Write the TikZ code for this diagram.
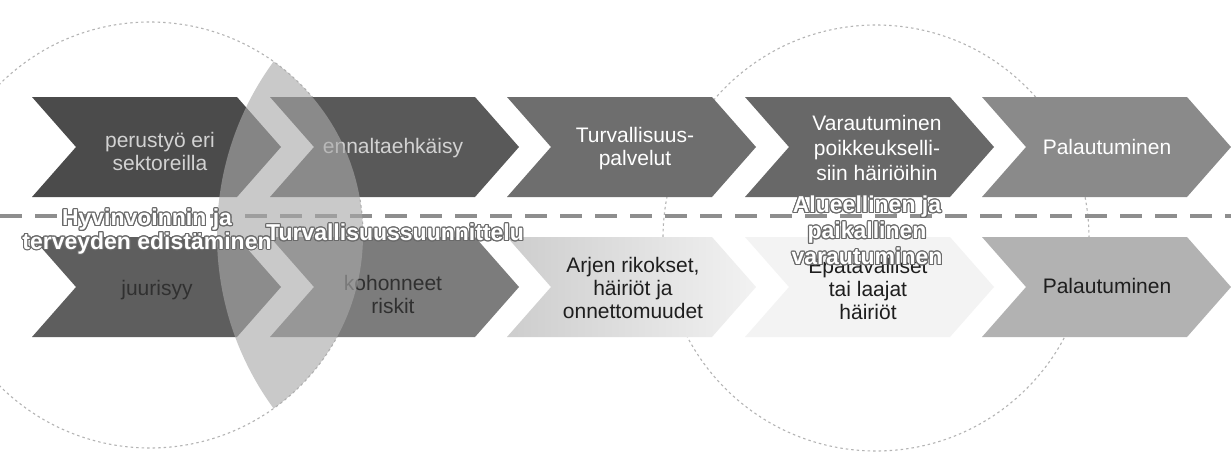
\documentclass[tikz,border=0pt]{standalone}
\usepackage{fontspec}
\setmainfont{Liberation Sans}
\usepackage{contour}
\contourlength{1.1pt}
\definecolor{ct1}{HTML}{4B4B4B}
\definecolor{ct2}{HTML}{595959}
\definecolor{ct3}{HTML}{6E6E6E}
\definecolor{ct4}{HTML}{686868}
\definecolor{ct5}{HTML}{8A8A8A}
\definecolor{cb1}{HTML}{5E5E5E}
\definecolor{cb2}{HTML}{7C7C7C}
\definecolor{cb3l}{HTML}{CDCDCD}
\definecolor{cb3r}{HTML}{F2F2F2}
\definecolor{cb4}{HTML}{F3F3F3}
\definecolor{cb5}{HTML}{B2B2B2}
\definecolor{txtlight}{HTML}{D2D2D2}
\definecolor{txtdark}{HTML}{1E1E1E}
\definecolor{txtmid}{HTML}{303030}
\definecolor{sepgray}{HTML}{8E8E8E}
\definecolor{circgray}{HTML}{B4B4B4}
\definecolor{lensgray}{HTML}{A9A9A9}
\definecolor{lblline}{HTML}{6A6A6A}
\begin{document}
\begin{tikzpicture}[x=1pt,y=-1pt,
  tc1/.style={fill=ct1}, tc2/.style={fill=ct2}, tc3/.style={fill=ct3},
  tc4/.style={fill=ct4}, tc5/.style={fill=ct5},
  bc1/.style={fill=cb1}, bc2/.style={fill=cb2},
  bc3/.style={left color=cb3l, right color=cb3r},
  bc4/.style={fill=cb4}, bc5/.style={fill=cb5},
  chevtext/.style={font=\fontsize{21}{23}\selectfont, align=center, inner sep=0pt},
  lbl/.style={font=\bfseries\fontsize{23}{22}\selectfont, align=center, inner sep=0pt, text=white},
  circ/.style={draw=circgray, line width=1.1pt, dash pattern=on 2.5pt off 3pt},
  sepline/.style={draw=sepgray, line width=4pt, dash pattern=on 22pt off 13pt}]
\useasboundingbox (0,0) rectangle (1231,455);
\fill[white] (0,0) rectangle (1231,455);
% circles (behind)
\draw[circ] (150,235) circle[radius=213pt];
\draw[circ] (876,238) circle[radius=213pt];
% chevrons
\foreach \x/\s in {32/tc1,270/tc2,507/tc3,745/tc4,982/tc5}
  \path[\s] (\x,97) -- ++(205,0) -- ++(44,50) -- ++(-44,50) -- ++(-205,0) -- ++(44,-50) -- cycle;
\foreach \x/\s in {32/bc1,270/bc2,507/bc3,745/bc4,982/bc5}
  \path[\s] (\x,237) -- ++(205,0) -- ++(44,50) -- ++(-44,50) -- ++(-205,0) -- ++(44,-50) -- cycle;
% top texts
\node[chevtext, text=txtlight] (t1) at (160,151) {perustyö eri\\sektoreilla};
\node[chevtext, text=txtlight] (t2) at (393,148) {ennaltaehkäisy};
\node[chevtext, text=white] (t3) at (635,149) {Turvallisuus-\\palvelut};
\node[chevtext, text=white, font=\fontsize{21}{25}\selectfont] (t4) at (877,148) {Varautuminen\\poikkeukselli-\\siin häiriöihin};
\node[chevtext, text=white] (t5) at (1107,147) {Palautuminen};
% bottom texts
\node[chevtext, text=txtmid] (b1) at (157,290) {juurisyy};
\node[chevtext, text=txtmid] (b2) at (393,294) {kohonneet\\riskit};
\node[chevtext, text=txtdark] (b3) at (633,288) {Arjen rikokset,\\häiriöt ja\\onnettomuudet};
\node[chevtext, text=txtdark] (b4) at (868,289) {Epätavalliset\\tai laajat\\häiriöt};
\node[chevtext, text=txtdark] (b5) at (1107,286) {Palautuminen};
% separator
\coordinate (sepL) at (0,216);
\coordinate (sepR) at (1231,216);
\draw[sepline] (sepL) -- (sepR);
% lens
\begin{scope}
  \clip (150,235) circle[radius=213pt];
  \fill[lensgray, opacity=0.62] (511,235) circle[radius=294pt];
\end{scope}
% overlay labels
\node[lbl] (l1) at (147,232) {\contour{lblline}{Hyvinvoinnin ja}\\\contour{lblline}{terveyden edistäminen}};
\node[lbl] (l2) at (395,233) {\contour{lblline}{Turvallisuussuunnittelu}};
\node[lbl, font=\bfseries\fontsize{23}{26}\selectfont] (l3) at (867,231) {\contour{lblline}{Alueellinen ja}\\\contour{lblline}{paikallinen}\\\contour{lblline}{varautuminen}};
\end{tikzpicture}
\end{document}
